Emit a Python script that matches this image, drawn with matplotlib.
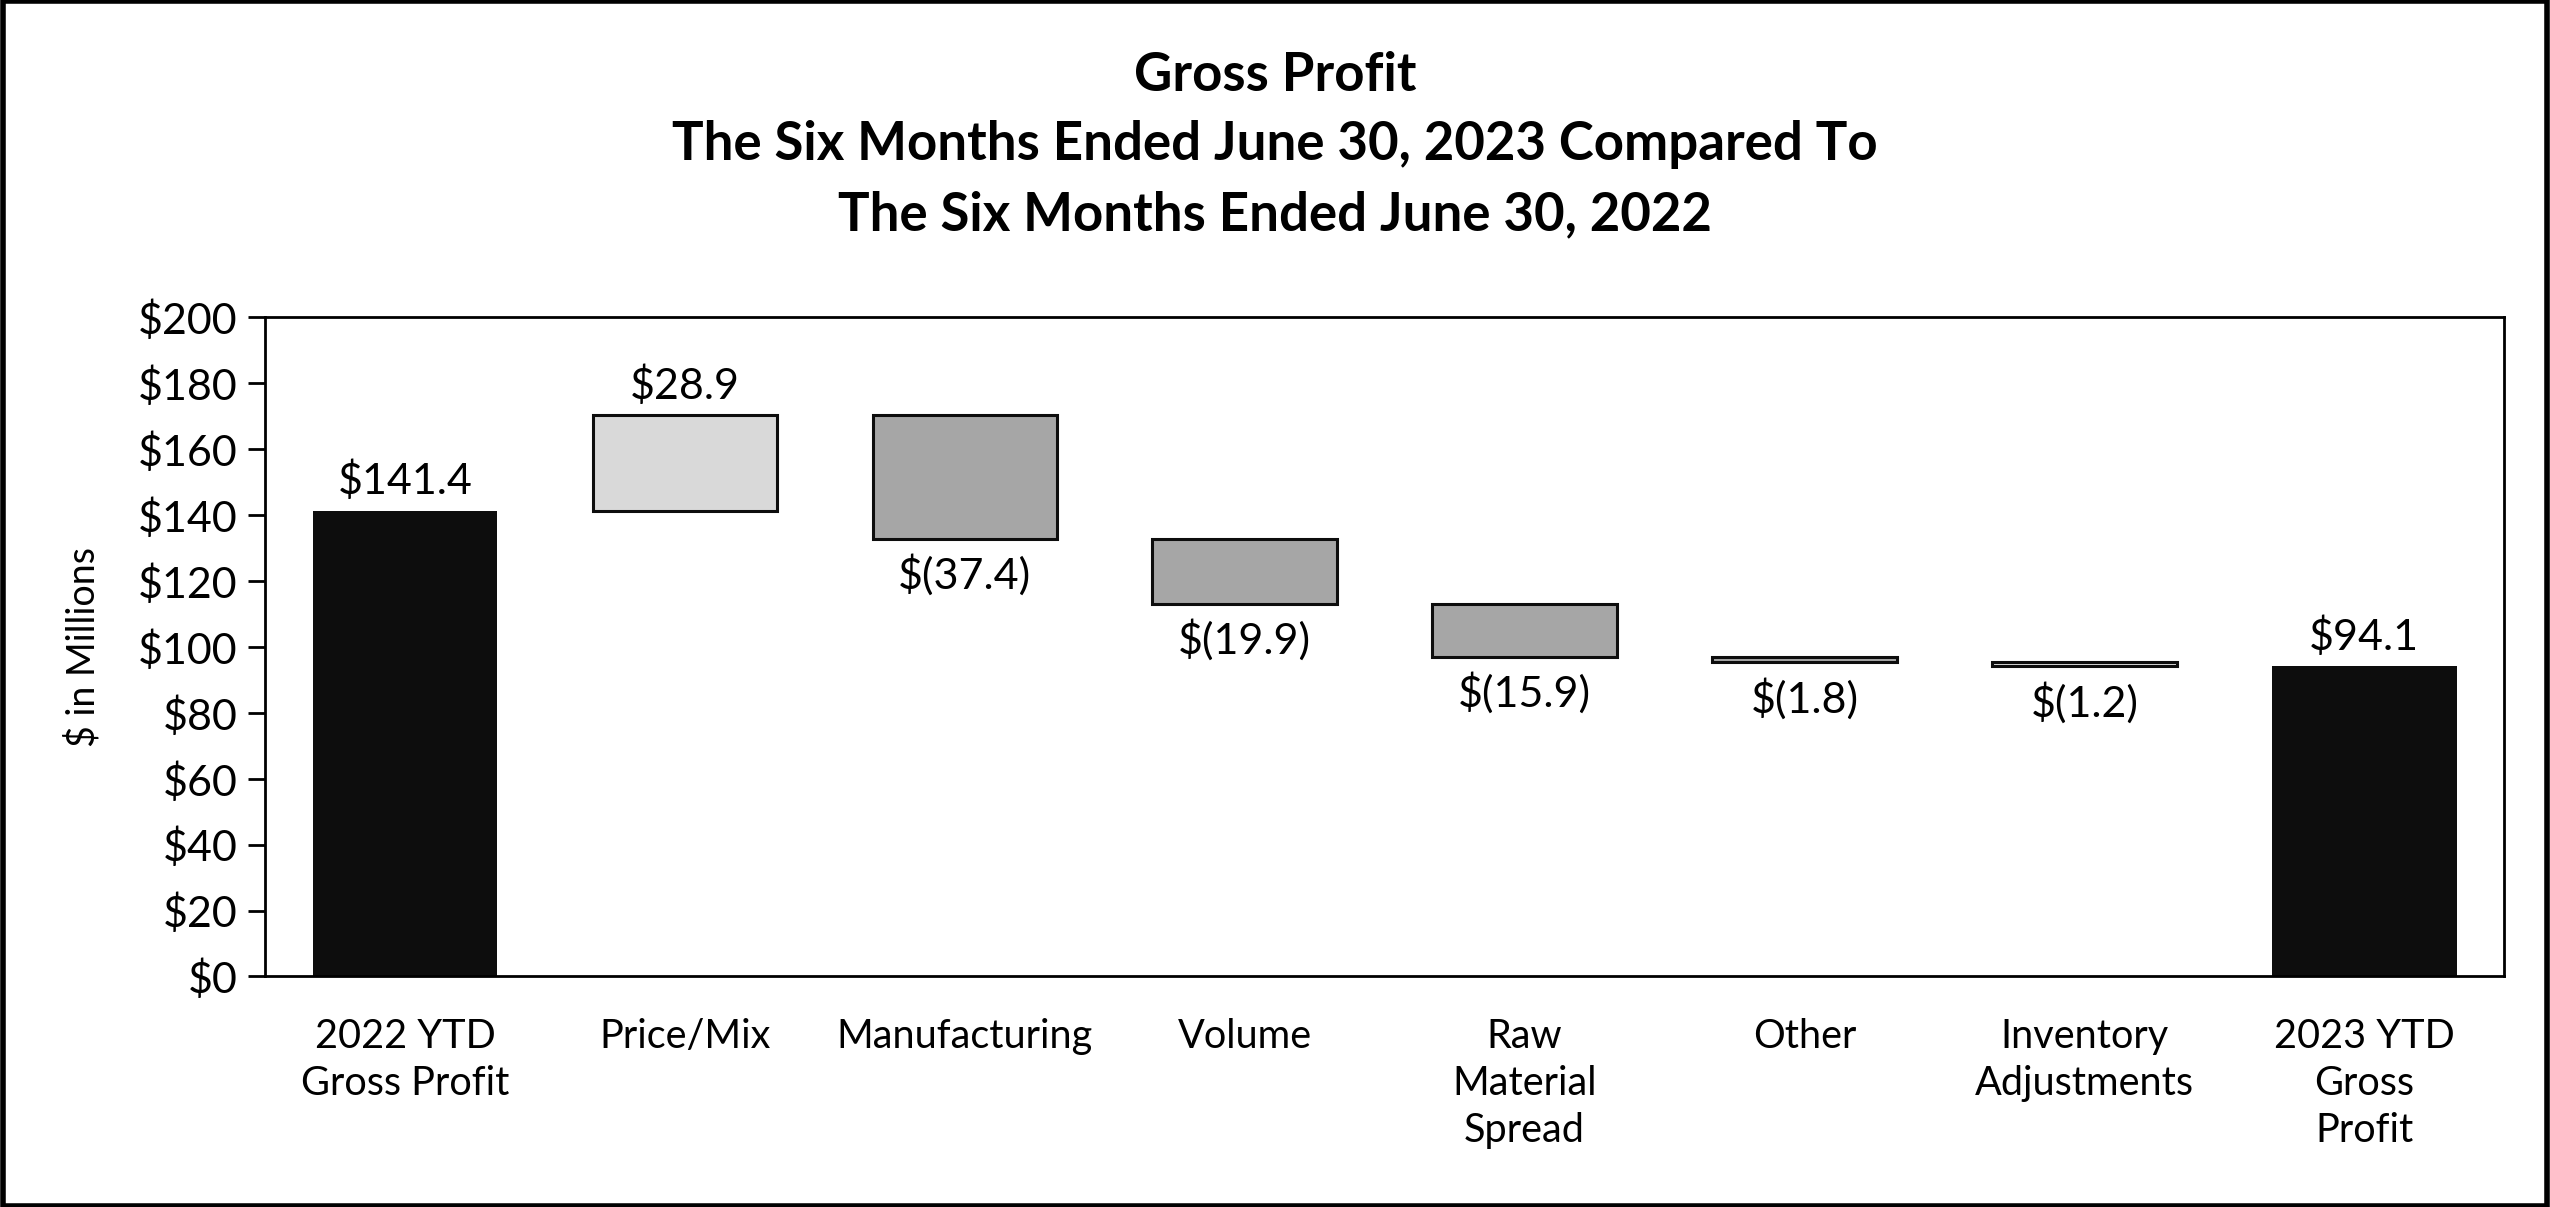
import matplotlib.pyplot as plt
from matplotlib.patches import Rectangle

# Gross profit bridge, $ millions
categories = ['2022 YTD\nGross Profit', 'Price/Mix', 'Manufacturing', 'Volume',
              'Raw\nMaterial\nSpread', 'Other', 'Inventory\nAdjustments',
              '2023 YTD\nGross\nProfit']
start_total = 141.4
changes = [28.9, -37.4, -19.9, -15.9, -1.8, -1.2]
end_total = 94.1
value_labels = ['$141.4', '$28.9', '$(37.4)', '$(19.9)', '$(15.9)', '$(1.8)',
                '$(1.2)', '$94.1']
change_colors = ['#d9d9d9', '#a6a6a6', '#a6a6a6', '#a6a6a6', '#a6a6a6', '#d9d9d9']
yticks = list(range(0, 201, 20))

plt.rcParams['font.family'] = ['Lato', 'DejaVu Sans']

fig = plt.figure(figsize=(25.5, 12.07), dpi=100)
ax = fig.add_axes([0.104, 0.191, 0.878, 0.546])

# running totals for the floating bars
bottoms, heights, colors = [0], [start_total], ['#0d0d0d']
level = start_total
for ch, c in zip(changes, change_colors):
    bottoms.append(min(level, level + ch))
    heights.append(abs(ch))
    colors.append(c)
    level += ch
bottoms.append(0)
heights.append(end_total)
colors.append('#0d0d0d')

x = list(range(len(categories)))
for i in x:
    is_total = i in (0, len(categories) - 1)
    ax.bar(i, heights[i], bottom=bottoms[i], width=0.66, color=colors[i],
           edgecolor='#0d0d0d' if not is_total else 'none',
           linewidth=2.2 if not is_total else 0)
    positive = is_total or changes[i - 1] > 0
    if positive:
        ax.annotate(value_labels[i], (i, bottoms[i] + heights[i]),
                    xytext=(0, 7), textcoords='offset points',
                    ha='center', va='bottom', fontsize=31)
    else:
        ax.annotate(value_labels[i], (i, bottoms[i]),
                    xytext=(0, -11), textcoords='offset points',
                    ha='center', va='top', fontsize=31)

ax.set_xlim(-0.5, len(categories) - 0.5)
ax.set_ylim(0, 200)
ax.set_yticks(yticks)
ax.set_yticklabels([f'${v}' for v in yticks], fontsize=31)
ax.set_xticks(x)
ax.set_xticklabels(categories, fontsize=28.5, linespacing=1.33, va='top')
ax.tick_params(axis='x', length=0, pad=30)
ax.tick_params(axis='y', length=12, width=2, pad=8)
for s in ax.spines.values():
    s.set_linewidth(2)
ax.set_ylabel('$ in Millions', fontsize=27, labelpad=26)

fig.text(0.5, 0.958, 'Gross Profit\nThe Six Months Ended June 30, 2023 Compared To\n'
         'The Six Months Ended June 30, 2022', ha='center', va='top',
         fontsize=38, fontweight='bold', linespacing=1.52)

fig.patches.append(Rectangle((0.001, 0.001), 0.998, 0.998, transform=fig.transFigure,
                             fill=False, edgecolor='black', linewidth=4))

fig.savefig('out.png', dpi=100)
